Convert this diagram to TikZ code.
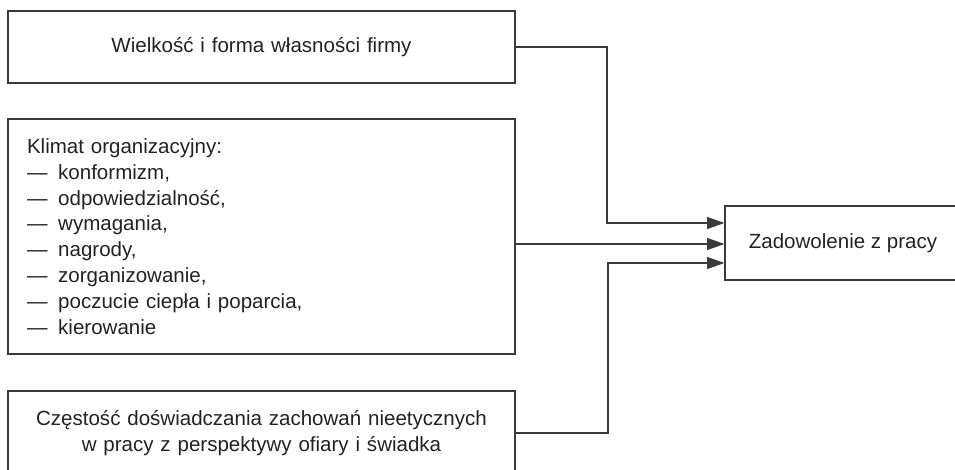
\documentclass[tikz,border=0pt]{standalone}
\usepackage{fontspec}
\setmainfont{Liberation Sans}
\usepackage{xcolor}
\usepackage{tikz}
\usetikzlibrary{arrows.meta}
\definecolor{linegray}{HTML}{3A3A3A}
\definecolor{textgray}{HTML}{222222}
\newcommand{\punkt}{—\hspace{8pt}}
\tikzset{
    % boxes
    box/.style={draw=linegray, line width=0.9pt, text=textgray, inner xsep=14.25pt,
        font=\fontsize{15.4pt}{19.4pt}\selectfont},
    factor/.style={box, minimum width=380.25pt, text width=351.75pt, align=center},
    outcome/.style={box, minimum width=177pt, minimum height=55.5pt, align=center},
    % connectors
    link/.style={draw=linegray, line width=0.9pt, -{Triangle[length=13pt, width=9pt]}}
}
\begin{document}
\begin{tikzpicture}[x=0.75pt, y=-0.75pt]
    \useasboundingbox (0,0) rectangle (955,470);
    \clip (0,0) rectangle (955,470);

    % Input factors
    \node[factor, minimum height=54pt] (wielkosc) at (261.5, 47) {Wielkość i forma własności firmy};
    \node[factor, minimum height=176.25pt, align=left] (klimat) at (261.5, 236.5) {
        Klimat organizacyjny:\\
        \punkt konformizm,\\
        \punkt odpowiedzialność,\\
        \punkt wymagania,\\
        \punkt nagrody,\\
        \punkt zorganizowanie,\\
        \punkt poczucie ciepła i poparcia,\\
        \punkt kierowanie
    };
    \node[factor, minimum height=63pt] (czestosc) at (261.5, 433) {
        Częstość doświadczania zachowań nieetycznych\\
        w pracy z perspektywy ofiary i świadka
    };

    % Outcome
    \node[outcome] (zadowolenie) at (843, 243) {Zadowolenie z pracy};

    % Entry points on the outcome box
    \coordinate (we1) at (zadowolenie.west |- 0, 223);
    \coordinate (we2) at (zadowolenie.west |- 0, 244);
    \coordinate (we3) at (zadowolenie.west |- 0, 263);

    % Connectors
    \draw[link] (wielkosc.east) -| (607, 223) -- (we1);
    \draw[link] (klimat.east |- we2) -- (we2);
    \draw[link] (czestosc.east) -| (608, 263) -- (we3);
\end{tikzpicture}
\end{document}
